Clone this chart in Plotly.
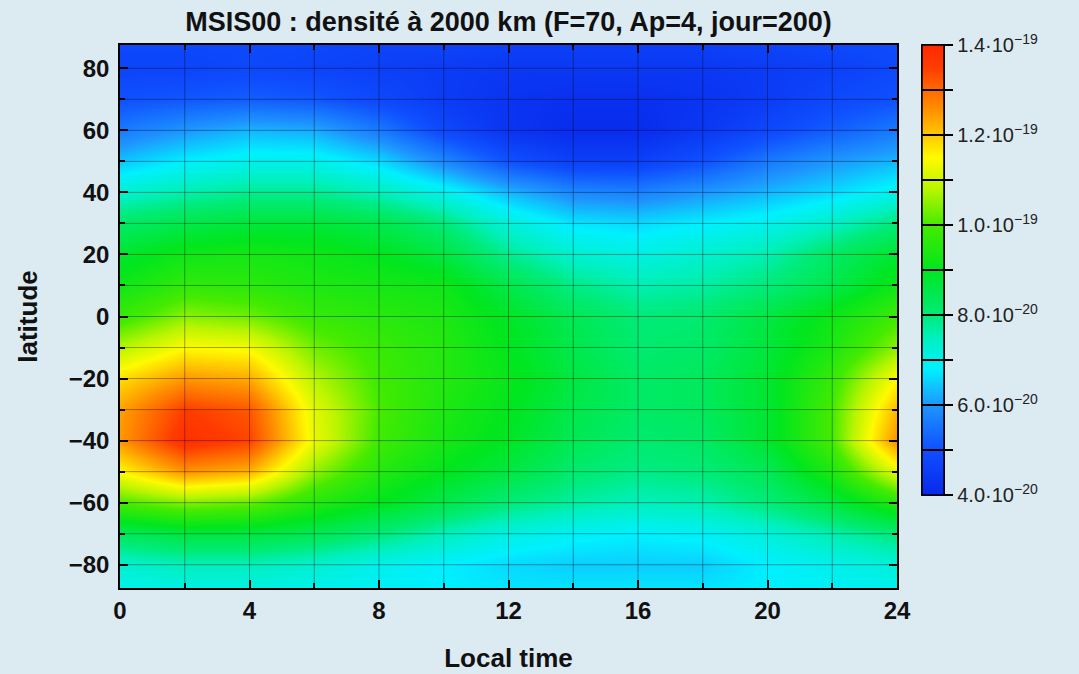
import plotly.graph_objects as go

# Local time (hours) and latitude (degrees)
local_time = [0, 2, 4, 6, 8, 10, 12, 14, 16, 18, 20, 22, 24]
latitude = [-87.5, -80, -70, -60, -50, -40, -30, -20, -10, 0, 10, 20, 30, 40, 50, 60, 70, 80, 87.5]

# Density in units of 1e-20 (rows follow latitude, columns follow local_time)
dens_m87 = [7.0, 7.1, 7.1, 7.0, 6.9, 6.8, 6.7, 6.7, 6.7, 6.7, 6.8, 6.9, 7.0]
dens_m80 = [7.3, 7.5, 7.5, 7.3, 7.0, 6.8, 6.6, 6.5, 6.5, 6.5, 6.8, 7.0, 7.2]
dens_m70 = [8.3, 8.6, 8.6, 8.4, 8.0, 7.5, 7.1, 6.9, 6.8, 6.9, 7.2, 7.6, 8.0]
dens_m60 = [10.0, 10.4, 10.2, 9.5, 9.0, 8.5, 8.0, 7.7, 7.5, 7.6, 8.0, 8.6, 9.5]
dens_m50 = [11.5, 12.5, 12.2, 10.5, 9.5, 9.0, 8.6, 8.1, 7.9, 8.0, 8.4, 9.4, 11.2]
dens_m40 = [12.5, 13.8, 13.4, 11.3, 9.9, 9.3, 8.9, 8.4, 8.1, 8.2, 8.8, 10.0, 12.6]
dens_m30 = [12.4, 13.5, 13.2, 11.2, 10.0, 9.4, 9.0, 8.5, 8.2, 8.3, 8.8, 10.0, 12.2]
dens_m20 = [11.8, 12.5, 12.3, 10.8, 9.9, 9.5, 9.1, 8.6, 8.2, 8.3, 8.8, 9.8, 11.5]
dens_m10 = [10.8, 11.5, 11.4, 10.3, 9.8, 9.5, 9.0, 8.5, 8.1, 8.2, 8.7, 9.4, 10.5]
dens_p00 = [9.8, 10.5, 10.3, 9.8, 9.6, 9.4, 8.9, 8.4, 8.0, 8.1, 8.6, 9.2, 9.9]
dens_p10 = [9.2, 9.7, 9.6, 9.4, 9.3, 9.2, 8.5, 7.9, 7.6, 7.7, 8.0, 8.5, 9.2]
dens_p20 = [8.8, 9.2, 9.3, 9.2, 9.0, 8.6, 7.8, 7.3, 7.1, 7.3, 7.6, 8.2, 8.8]
dens_p30 = [8.2, 8.5, 8.7, 8.7, 8.5, 8.0, 7.2, 6.7, 6.6, 6.8, 7.0, 7.4, 8.0]
dens_p40 = [7.3, 7.6, 7.8, 7.8, 7.5, 7.0, 6.3, 5.8, 5.7, 6.0, 6.3, 6.6, 7.0]
dens_p50 = [6.4, 6.8, 7.0, 7.0, 6.6, 5.8, 5.0, 4.6, 4.6, 5.0, 5.6, 6.0, 6.3]
dens_p60 = [5.6, 6.0, 6.3, 6.2, 5.6, 4.8, 4.3, 4.1, 4.1, 4.4, 4.8, 5.2, 5.6]
dens_p70 = [5.0, 5.1, 5.2, 5.1, 4.8, 4.5, 4.3, 4.2, 4.2, 4.3, 4.5, 4.8, 5.0]
dens_p80 = [4.7, 4.7, 4.8, 4.7, 4.6, 4.5, 4.4, 4.4, 4.4, 4.4, 4.5, 4.6, 4.8]
dens_p87 = [4.8, 4.8, 4.8, 4.8, 4.7, 4.7, 4.6, 4.6, 4.6, 4.6, 4.7, 4.8, 4.9]

density = [dens_m87, dens_m80, dens_m70, dens_m60, dens_m50, dens_m40, dens_m30,
           dens_m20, dens_m10, dens_p00, dens_p10, dens_p20, dens_p30, dens_p40,
           dens_p50, dens_p60, dens_p70, dens_p80, dens_p87]

cb_label_vals = [4, 6, 8, 10, 12, 14]
cb_label_text = ["4.0·10<sup>−20</sup>", "6.0·10<sup>−20</sup>", "8.0·10<sup>−20</sup>",
                 "1.0·10<sup>−19</sup>", "1.2·10<sup>−19</sup>", "1.4·10<sup>−19</sup>"]
cb_all_vals = [4, 5, 6, 7, 8, 9, 10, 11, 12, 13, 14]

x_ticks = [0, 4, 8, 12, 16, 20, 24]
y_ticks = [-80, -60, -40, -20, 0, 20, 40, 60, 80]
x_grid = [2, 4, 6, 8, 10, 12, 14, 16, 18, 20, 22]
y_grid = [-80, -70, -60, -50, -40, -30, -20, -10, 0, 10, 20, 30, 40, 50, 60, 70, 80]

colorscale = [
    [0.00, "rgb(8,40,235)"],
    [0.10, "rgb(15,80,255)"],
    [0.20, "rgb(30,150,255)"],
    [0.28, "rgb(0,240,255)"],
    [0.35, "rgb(0,240,190)"],
    [0.40, "rgb(0,235,120)"],
    [0.50, "rgb(0,230,30)"],
    [0.60, "rgb(70,235,0)"],
    [0.68, "rgb(185,245,0)"],
    [0.75, "rgb(255,250,0)"],
    [0.85, "rgb(255,150,0)"],
    [0.95, "rgb(255,60,0)"],
    [1.00, "rgb(255,40,0)"],
]

FONT = "Liberation Sans, Arial, sans-serif"
CB_POS = dict(thickness=22, len=0.829, lenmode="fraction",
              x=1.032, xanchor="left", xpad=0, y=1, yanchor="top", ypad=0,
              outlinecolor="black", outlinewidth=1.5)

fig = go.Figure()
# labelled colorbar
fig.add_trace(go.Heatmap(
    x=local_time, y=latitude, z=density, zmin=4, zmax=14, zsmooth="best",
    colorscale=colorscale, hoverinfo="skip",
    colorbar=dict(**CB_POS, tickvals=cb_label_vals, ticktext=cb_label_text,
                  ticks="outside", ticklen=9, tickcolor="black", tickwidth=1.5,
                  tickfont=dict(family=FONT, size=20, color="#222")),
))
# minor outside tick stubs on the colorbar
fig.add_trace(go.Heatmap(
    x=local_time, y=latitude, z=density, zmin=4, zmax=14, zsmooth="best",
    colorscale=colorscale, hoverinfo="skip",
    colorbar=dict(**CB_POS, tickvals=cb_all_vals, showticklabels=False,
                  ticks="outside", ticklen=9, tickcolor="black", tickwidth=1.5),
))
# separator lines across the colorbar
fig.add_trace(go.Heatmap(
    x=local_time, y=latitude, z=density, zmin=4, zmax=14, zsmooth="best",
    colorscale=colorscale,
    colorbar=dict(**CB_POS, tickvals=cb_all_vals, showticklabels=False,
                  ticks="inside", ticklen=22, tickcolor="black", tickwidth=1.5),
))

for gx in x_grid:
    fig.add_shape(type="line", xref="x", yref="paper", x0=gx, x1=gx, y0=0, y1=1,
                  line=dict(color="rgba(0,0,0,0.35)", width=1), layer="above")
for gy in y_grid:
    fig.add_shape(type="line", xref="paper", yref="y", x0=0, x1=1, y0=gy, y1=gy,
                  line=dict(color="rgba(0,0,0,0.35)", width=1), layer="above")

fig.update_layout(
    width=1079, height=674,
    margin=dict(l=120, r=182, t=45, b=86, autoexpand=False),
    paper_bgcolor="rgb(220,234,242)",
    plot_bgcolor="rgb(220,234,242)",
    title=dict(text="<b>MSIS00 : densité à 2000 km (F=70, Ap=4, jour=200)</b>",
               x=(120 + 897) / 2 / 1079, xanchor="center", y=1 - 22 / 674, yanchor="middle",
               font=dict(family=FONT, size=27, color="#111")),
    font=dict(family=FONT, color="#111"),
    xaxis=dict(
        range=[0, 24], tickvals=x_ticks, ticks="inside", ticklen=8, tickwidth=1.5,
        tickcolor="black", mirror="allticks", showline=True, linecolor="black", linewidth=1.5,
        showgrid=False, zeroline=False, layer="above traces", automargin=False,
        minor=dict(dtick=2, ticks="inside", ticklen=5, tickcolor="black", showgrid=False),
        tickfont=dict(family=FONT, size=24, color="#111", weight="bold"),
        title=dict(text="<b>Local time</b>", font=dict(family=FONT, size=26), standoff=26),
    ),
    yaxis=dict(
        range=[-87.5, 87.5], tickvals=y_ticks, ticks="inside", ticklen=8, tickwidth=1.5,
        tickcolor="black", mirror="allticks", showline=True, linecolor="black", linewidth=1.5,
        showgrid=False, zeroline=False, layer="above traces", ticklabelstandoff=4,
        automargin=False,
        minor=dict(dtick=10, ticks="inside", ticklen=5, tickcolor="black", showgrid=False),
        tickfont=dict(family=FONT, size=24, color="#111", weight="bold"),
        title=dict(text="<b>latitude</b>", font=dict(family=FONT, size=26), standoff=24),
    ),
)

fig.write_html("out.html")
